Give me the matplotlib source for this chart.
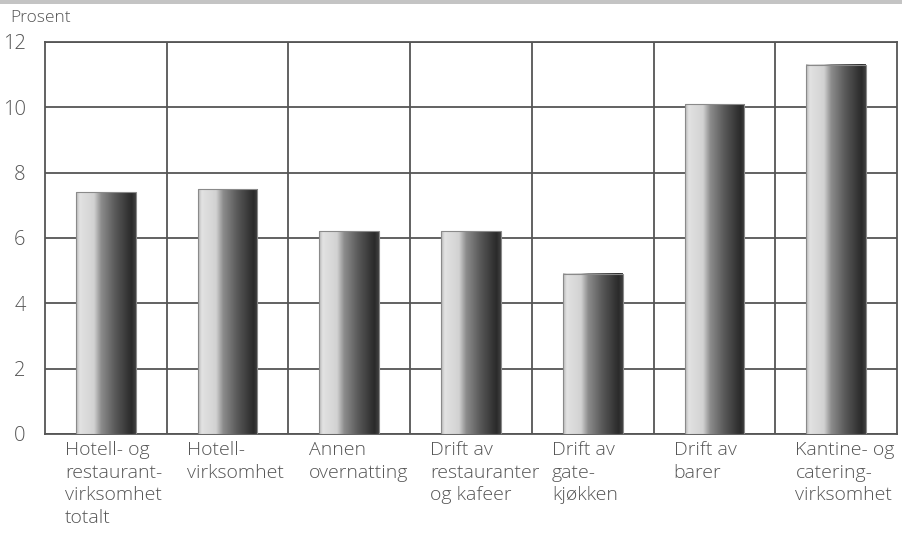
import numpy as np
import matplotlib as mpl
mpl.use('Agg')
import matplotlib.pyplot as plt
from matplotlib.colors import LinearSegmentedColormap
from matplotlib.patches import Rectangle

plt.rc('font', family='Open Sans', weight='light', size=14)

#### data
categories = ['Hotell- og\nrestaurant-\nvirksomhet\ntotalt',
              'Hotell-\nvirksomhet',
              'Annen\novernatting',
              'Drift av\nrestauranter\nog kafeer',
              'Drift av\ngate-\nkjøkken',
              'Drift av\nbarer',
              'Kantine- og\ncatering-\nvirksomhet']
values = [7.4, 7.5, 6.2, 6.2, 4.9, 10.1, 11.3]
yticks = [0, 2, 4, 6, 8, 10, 12]

txt_col = '#555555'
grid_col = '#555555'

#### shading of the columns (light left, dark right)
shade = LinearSegmentedColormap.from_list('shade', [
    (0.0, '#b8b8b8'), (0.06, '#e2e2e2'), (0.30, '#d2d2d2'),
    (0.42, '#8c8c8c'), (0.65, '#5a5a5a'), (0.93, '#2a2a2a'), (1.0, '#404040')])
grad = np.linspace(0, 1, 200).reshape(1, -1)

fig = plt.figure(figsize=(9.02, 5.35), dpi=100)
ax = fig.add_axes([0.0499, 0.1888, 0.9446, 0.7327])

# grey band on top of the figure
fig.patches.append(Rectangle((0, 0.992), 1, 0.008, transform=fig.transFigure,
                             facecolor='#c4c4c4', edgecolor='none'))

x = np.arange(len(values))
w = 0.49
for xi, v in zip(x, values):
    ax.imshow(grad, cmap=shade, aspect='auto', extent=[xi - w/2, xi + w/2, 0, v],
              zorder=3, interpolation='bilinear')
    ax.add_patch(Rectangle((xi - w/2, 0), w, v, facecolor='none',
                           edgecolor='#8a8a8a', linewidth=0.8, zorder=4))

ax.set_xlim(-0.5, len(values) - 0.5)
ax.set_ylim(0, 12)
ax.set_yticks(yticks)
ax.set_xticks([])
ax.set_xticks(x[:-1] + 0.5, minor=True)
ax.tick_params(which='both', length=0, colors=txt_col, labelsize=14.5, pad=14)
ax.tick_params(axis='x', which='minor', labelbottom=False)
ax.grid(axis='y', color=grid_col, linewidth=1.3, zorder=1)
ax.grid(axis='x', which='minor', color=grid_col, linewidth=1.3, zorder=1)
ax.set_axisbelow(True)
for s in ax.spines.values():
    s.set_color(grid_col)
    s.set_linewidth(1.3)

for xi, lab in zip(x, categories):
    ax.annotate(lab, xy=(xi - 0.335, 0), xycoords='data', xytext=(0, -5),
                textcoords='offset points', ha='left', va='top',
                color=txt_col, fontsize=14, linespacing=1.33,
                annotation_clip=False)

fig.text(0.011, 0.966, 'Prosent', ha='left', va='center', color=txt_col, fontsize=12.5)

fig.savefig('out.png', dpi=100)
plt.close()
